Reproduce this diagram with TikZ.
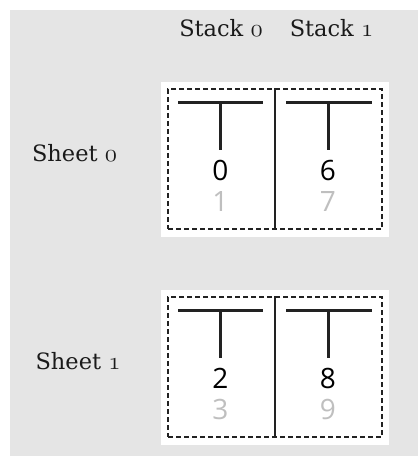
\documentclass[tikz,border=0pt]{standalone}
\usepackage{fontspec}
\newfontfamily\digitfont{Open Sans}
\newfontfamily\labelfont{DejaVu Serif}
\definecolor{bg}{HTML}{E5E5E5}
\definecolor{ink}{HTML}{222222}
\definecolor{pale}{HTML}{BFBFBF}
\definecolor{labelink}{HTML}{1A1A1A}
\newcommand{\osnum}[1]{{\fontsize{27.5}{30}\usefont{OML}{lmm}{m}{it}#1}}
\begin{document}
\begin{tikzpicture}[x=1pt,y=-1pt,
  lbl/.style={font=\labelfont\fontsize{22.5}{27}\selectfont, anchor=base, inner sep=0pt, text=labelink},
  digit/.style={font=\digitfont\fontsize{28}{32}\selectfont, anchor=base, inner sep=0pt},
  front/.style={digit, text=black},
  back/.style={digit, text=pale},
  sheetbox/.style={fill=white, draw=none, inner sep=0pt, minimum width=228pt, minimum height=155pt},
  foldbox/.style={draw=ink, line width=1.5pt, dash pattern=on 5pt off 3pt, inner sep=0pt, minimum width=214pt, minimum height=140pt},
  tbar/.style={draw=ink, line width=3pt},
  divider/.style={draw=ink, line width=1.5pt}]
\useasboundingbox (0,0) rectangle (418,456);
\fill[bg] (10,10) rectangle (418,456);
% column labels
\node[lbl] (stack0) at (221,36.7) {Stack \osnum{0}};
\node[lbl] (stack1) at (331.5,36.7) {Stack \osnum{1}};
\foreach \s/\yo/\lx/\fa/\ba/\fb/\bb in {0/82/74.5/0/1/6/7, 1/290/78/2/3/8/9}{
  \begin{scope}[shift={(0,\yo)}]
    \node[sheetbox] (sheet\s) at (275,77.5) {};
    \node[foldbox] (fold\s) at (275,77) {};
    \draw[divider] (fold\s.north) -- (fold\s.south);
    \coordinate (la\s) at (178,20);
    \coordinate (ra\s) at (263,20);
    \coordinate (lb\s) at (286,20);
    \coordinate (rb\s) at (372,20);
    \coordinate (sa\s) at (220.5,20);
    \coordinate (ea\s) at (220.5,68);
    \coordinate (sb\s) at (328,20);
    \coordinate (eb\s) at (328,68);
    \draw[tbar] (la\s) -- (ra\s);
    \draw[tbar] (sa\s) -- (ea\s);
    \draw[tbar] (lb\s) -- (rb\s);
    \draw[tbar] (sb\s) -- (eb\s);
    \node[front] (fa\s) at (220.5,98.5) {\fa};
    \node[back] (ba\s) at (220.5,129) {\ba};
    \node[front] (fb\s) at (328,98.5) {\fb};
    \node[back] (bb\s) at (328,129) {\bb};
    \node[lbl] (sheetlabel\s) at (\lx,79.5) {Sheet \osnum{\s}};
  \end{scope}
}
\end{tikzpicture}
\end{document}
